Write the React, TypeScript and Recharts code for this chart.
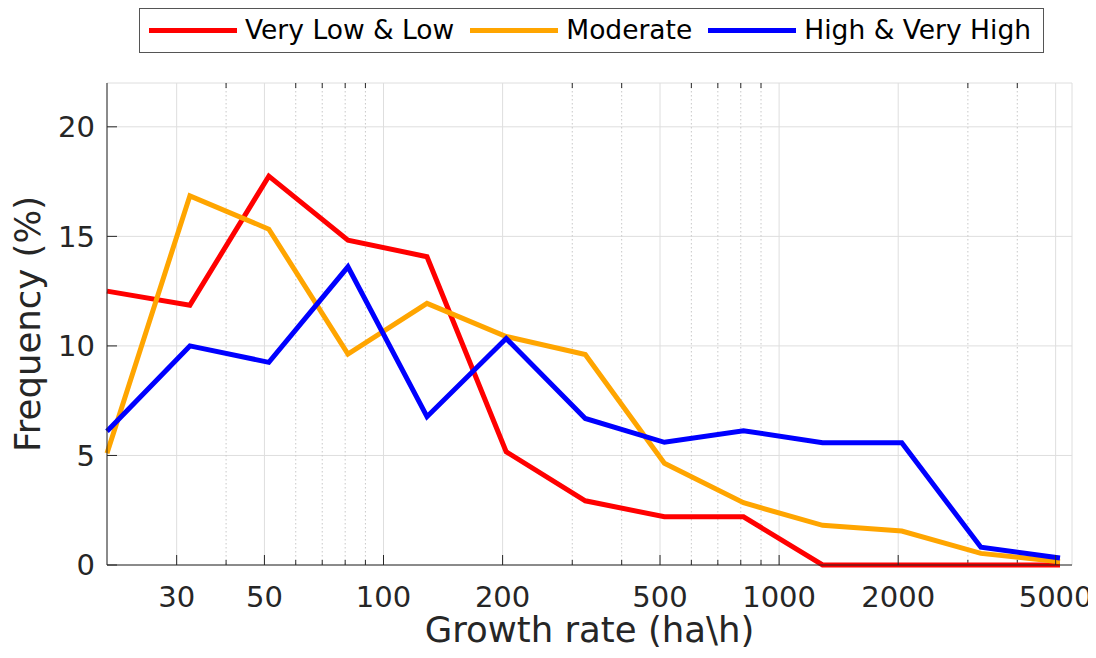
import React from "react";
import { LineChart, Line, XAxis, YAxis, CartesianGrid, ReferenceLine, Legend, Label } from "recharts";

// growth-rate bin centres (ha\h), log spaced
const growthRate = [20, 32.4, 51.3, 81.3, 128.8, 204.2, 323.6, 512.9, 812.8, 1288, 2042, 3236, 5129];
const veryLowLow = [12.5, 11.86, 17.75, 14.83, 14.07, 5.17, 2.93, 2.2, 2.2, 0, 0, 0, 0];
const moderate = [5.1, 16.85, 15.33, 9.63, 11.94, 10.43, 9.61, 4.64, 2.84, 1.81, 1.55, 0.53, 0.15];
const highVeryHigh = [6.1, 10.0, 9.25, 13.61, 6.77, 10.34, 6.69, 5.6, 6.13, 5.58, 5.58, 0.81, 0.32];

const seriesKeys = ["low", "moderate", "high"];
const seriesNames = ["Very Low & Low", "Moderate", "High & Very High"];
const seriesColors = ["#ff0000", "#ffa500", "#0000ff"];

const xMajorTicks = [30, 50, 100, 200, 500, 1000, 2000, 5000];
const xMinorTicks = [40, 60, 70, 80, 90, 300, 400, 600, 700, 800, 900, 3000, 4000];
const yTicks = [0, 5, 10, 15, 20];

const data = growthRate.map((x, i) => ({
  x,
  low: veryLowLow[i],
  moderate: moderate[i],
  high: highVeryHigh[i],
}));

const FONT = "'DejaVu Sans', sans-serif";
const AXIS = "#262626";

const minorGrid = (p: any) => {
  const top = Math.min(p.y1, p.y2);
  const bottom = Math.max(p.y1, p.y2);
  return (
    <g>
      <line x1={p.x1} x2={p.x1} y1={top} y2={bottom} stroke="#c8c8c8" strokeDasharray="1.5 2.5" />
      <line x1={p.x1} x2={p.x1} y1={bottom} y2={bottom - 5} stroke={AXIS} />
      <line x1={p.x1} x2={p.x1} y1={top} y2={top + 5} stroke={AXIS} />
    </g>
  );
};

const xLabel = (props: any) => {
  const vb = props.viewBox || {};
  return (
    <text x={vb.x + vb.width / 2} y={vb.y + 77} textAnchor="middle" fill={AXIS} fontSize={35.5} fontFamily={FONT}>
      Growth rate (ha\h)
    </text>
  );
};

const yLabel = (props: any) => {
  const vb = props.viewBox || {};
  const cx = vb.x + 32;
  const cy = vb.y + vb.height / 2;
  return (
    <text x={cx} y={cy} transform={`rotate(-90, ${cx}, ${cy})`} textAnchor="middle" fill={AXIS} fontSize={35.5} fontFamily={FONT}>
      Frequency (%)
    </text>
  );
};

const renderLegend = () => (
  <div
    style={{
      boxSizing: "border-box",
      width: 905,
      height: 45,
      border: "1px solid #555",
      background: "#fff",
      display: "flex",
      alignItems: "center",
      paddingLeft: 9,
      fontFamily: FONT,
      fontSize: 26.5,
      color: "#000",
    }}
  >
    {seriesNames.map((name, i) => (
      <div key={name} style={{ display: "flex", alignItems: "center", marginRight: i < seriesNames.length - 1 ? 16 : 0 }}>
        <div style={{ width: 88, height: 5, background: seriesColors[i], marginRight: 8 }} />
        <span style={{ whiteSpace: "nowrap", lineHeight: 1 }}>{name}</span>
      </div>
    ))}
  </div>
);

export default function App() {
  return (
    <LineChart width={1088} height={642} data={data} margin={{ top: 75, right: 24, bottom: 0, left: 0 }} style={{ fontFamily: FONT }}>
      <CartesianGrid stroke="#dedede" strokeWidth={1} />
      {xMinorTicks.map((v) => (
        <ReferenceLine key={v} x={v} shape={minorGrid} />
      ))}
      <XAxis
        dataKey="x"
        type="number"
        scale="log"
        domain={[20, 5500]}
        ticks={xMajorTicks}
        interval={0}
        height={85}
        tickSize={-10}
        tickMargin={31}
        axisLine={{ stroke: AXIS }}
        tickLine={{ stroke: AXIS }}
        tick={{ fill: AXIS, fontSize: 29, fontFamily: FONT }}
      >
        <Label content={xLabel} />
      </XAxis>
      <XAxis
        xAxisId="top"
        orientation="top"
        dataKey="x"
        type="number"
        scale="log"
        domain={[20, 5500]}
        ticks={xMajorTicks}
        interval={0}
        height={0}
        tickSize={-10}
        axisLine={{ stroke: AXIS }}
        tickLine={{ stroke: AXIS }}
        tick={false}
      />
      <YAxis
        type="number"
        domain={[0, 22]}
        ticks={yTicks}
        interval={0}
        width={99}
        tickSize={-10}
        tickMargin={22}
        axisLine={{ stroke: AXIS }}
        tickLine={{ stroke: AXIS }}
        tick={{ fill: AXIS, fontSize: 29, fontFamily: FONT }}
      >
        <Label content={yLabel} />
      </YAxis>
      <YAxis
        yAxisId="right"
        orientation="right"
        type="number"
        domain={[0, 22]}
        ticks={yTicks}
        interval={0}
        width={0}
        tickSize={-10}
        axisLine={{ stroke: AXIS }}
        tickLine={{ stroke: AXIS }}
        tick={false}
      />
      {seriesKeys.map((k, i) => (
        <Line
          key={k}
          dataKey={k}
          name={seriesNames[i]}
          type="linear"
          stroke={seriesColors[i]}
          strokeWidth={5}
          dot={false}
          activeDot={false}
          isAnimationActive={false}
        />
      ))}
      <Legend
        layout="horizontal"
        verticalAlign="middle"
        align="center"
        wrapperStyle={{ top: 0, left: 131, width: 905, height: 45 }}
        content={renderLegend}
      />
    </LineChart>
  );
}
